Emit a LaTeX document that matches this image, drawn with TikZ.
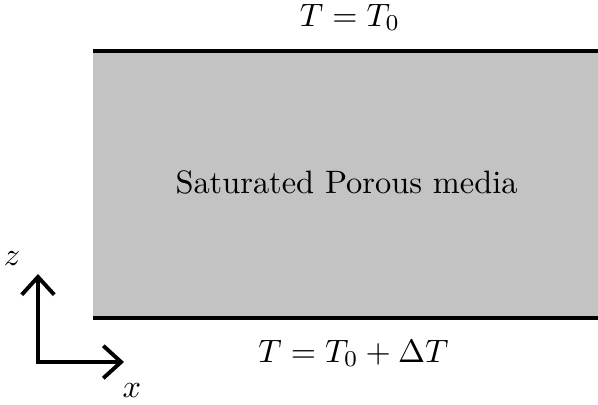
\documentclass[tikz,border=0pt]{standalone}
\usetikzlibrary{arrows.meta}
\definecolor{porousgray}{RGB}{195,195,195}

\begin{document}
\begin{tikzpicture}[x=0.3086pt, y=-0.3086pt, >={Straight Barb[length=5.5pt,width=10pt]}]
    \useasboundingbox (0,0) rectangle (598,404);
    \fill[porousgray] (93,51) rectangle (598,318);
    \draw[line width=1.25pt] (93,51) -- (598,51);
    \draw[line width=1.25pt] (93,318) -- (598,318);
    \node[anchor=base] (top) at (350,26) {$T=T_0$};
    \node[anchor=base] (media) at (346.5,193) {Saturated Porous media};
    \node[anchor=base] (bottom) at (353.5,362) {$T=T_0+\Delta T$};
    \coordinate (origin) at (38,362);
    \coordinate (zend) at (38,274);
    \coordinate (xend) at (124,362);
    \draw[<->, line width=1.2pt] (zend) -- (origin) -- (xend);
    \node[anchor=base] (zlabel) at (12,265) {$z$};
    \node[anchor=base] (xlabel) at (132,397) {$x$};
\end{tikzpicture}
\end{document}
